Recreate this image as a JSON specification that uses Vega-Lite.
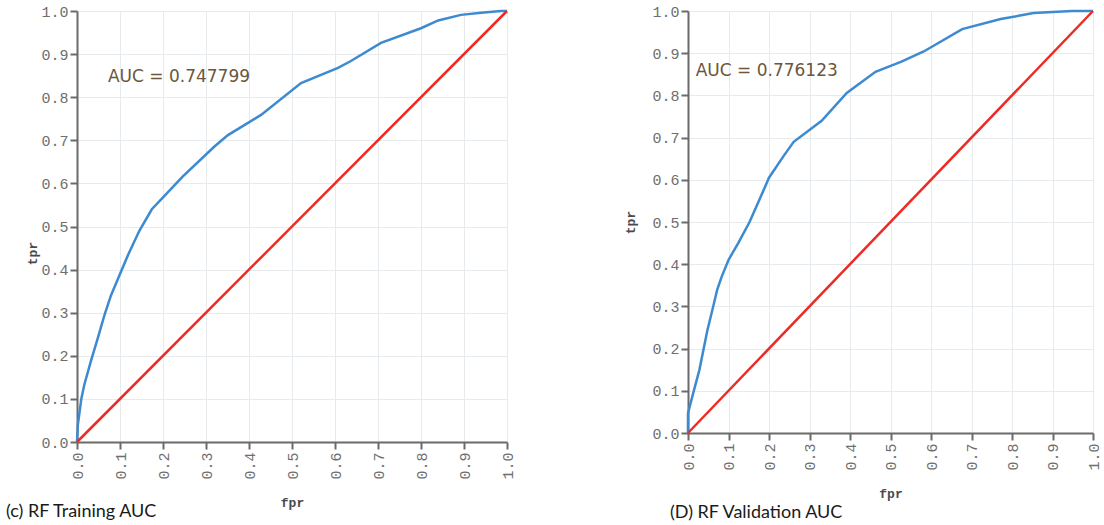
{
  "$schema": "https://vega.github.io/schema/vega-lite/v6.json",
  "padding": {"left": 5, "top": 4, "right": 9, "bottom": 0},
  "background": "white",
  "config": {
    "view": {"stroke": null},
    "axis": {
      "domainColor": "#6b6b6b", "domainWidth": 2,
      "tickColor": "#6b6b6b", "tickWidth": 2, "tickSize": 7,
      "labelFont": "Liberation Mono", "labelFontSize": 15, "labelColor": "#6e6e6e",
      "titleFont": "Liberation Mono", "titleFontSize": 13, "titleFontWeight": "bold", "titleColor": "#4a4a4a",
      "gridColor": "#e8ebee", "gridWidth": 1,
      "labelFlush": false, "labelOverlap": false,
      "values": [0, 0.1, 0.2, 0.3, 0.4, 0.5, 0.6, 0.7, 0.8, 0.9, 1.0],
      "format": ".1f"
    },
    "title": {"font": "Lato", "fontSize": 18, "fontWeight": "normal", "color": "#1a1a1a", "orient": "bottom", "anchor": "start"}
  },
  "datasets": {
    "train": [
      {"fpr": 0, "tpr": 0}, {"fpr": 0.002, "tpr": 0.04}, {"fpr": 0.01, "tpr": 0.10}, {"fpr": 0.017, "tpr": 0.133},
      {"fpr": 0.033, "tpr": 0.19}, {"fpr": 0.048, "tpr": 0.24}, {"fpr": 0.064, "tpr": 0.295}, {"fpr": 0.079, "tpr": 0.34},
      {"fpr": 0.098, "tpr": 0.385}, {"fpr": 0.12, "tpr": 0.437}, {"fpr": 0.145, "tpr": 0.49}, {"fpr": 0.174, "tpr": 0.54},
      {"fpr": 0.21, "tpr": 0.578}, {"fpr": 0.245, "tpr": 0.615}, {"fpr": 0.319, "tpr": 0.685}, {"fpr": 0.351, "tpr": 0.712},
      {"fpr": 0.428, "tpr": 0.759}, {"fpr": 0.521, "tpr": 0.833}, {"fpr": 0.607, "tpr": 0.868}, {"fpr": 0.637, "tpr": 0.884},
      {"fpr": 0.707, "tpr": 0.926}, {"fpr": 0.8, "tpr": 0.96}, {"fpr": 0.84, "tpr": 0.978}, {"fpr": 0.893, "tpr": 0.991},
      {"fpr": 0.94, "tpr": 0.996}, {"fpr": 0.986, "tpr": 1.0}, {"fpr": 1.0, "tpr": 1.0}
    ],
    "valid": [
      {"fpr": 0, "tpr": 0}, {"fpr": 0.0, "tpr": 0.047}, {"fpr": 0.013, "tpr": 0.095}, {"fpr": 0.028, "tpr": 0.149},
      {"fpr": 0.048, "tpr": 0.244}, {"fpr": 0.06, "tpr": 0.291}, {"fpr": 0.072, "tpr": 0.339}, {"fpr": 0.083, "tpr": 0.37},
      {"fpr": 0.1, "tpr": 0.41}, {"fpr": 0.124, "tpr": 0.45}, {"fpr": 0.152, "tpr": 0.5}, {"fpr": 0.176, "tpr": 0.552},
      {"fpr": 0.2, "tpr": 0.605}, {"fpr": 0.235, "tpr": 0.655}, {"fpr": 0.261, "tpr": 0.69}, {"fpr": 0.33, "tpr": 0.74},
      {"fpr": 0.392, "tpr": 0.806}, {"fpr": 0.463, "tpr": 0.856}, {"fpr": 0.527, "tpr": 0.88}, {"fpr": 0.582, "tpr": 0.904},
      {"fpr": 0.677, "tpr": 0.957}, {"fpr": 0.772, "tpr": 0.981}, {"fpr": 0.853, "tpr": 0.995}, {"fpr": 0.948, "tpr": 1.0},
      {"fpr": 1.0, "tpr": 1.0}
    ],
    "diag": [{"fpr": 0, "tpr": 0}, {"fpr": 1, "tpr": 1}],
    "aucTrain": [{"fpr": 0.072, "tpr": 0.848, "label": "AUC = 0.747799"}],
    "aucValid": [{"fpr": 0.019, "tpr": 0.858, "label": "AUC = 0.776123"}]
  },
  "spacing": 109,
  "hconcat": [
    {
      "width": 430, "height": 431,
      "title": {"text": "(c) RF Training AUC", "dx": -21, "offset": -6},
      "layer": [
        {
          "data": {"name": "train"},
          "mark": {"type": "line", "color": "#3d8ad0", "strokeWidth": 2.5},
          "encoding": {
            "x": {"field": "fpr", "type": "quantitative", "scale": {"domain": [0, 1], "nice": false},
                  "axis": {"title": "fpr", "labelAngle": -90, "labelPadding": 3, "titlePadding": 17}},
            "y": {"field": "tpr", "type": "quantitative", "scale": {"domain": [0, 1], "nice": false},
                  "axis": {"title": "tpr", "labelPadding": 2, "titlePadding": 1, "titleY": 242}},
            "order": {"field": "fpr", "type": "quantitative"}
          }
        },
        {
          "data": {"name": "diag"},
          "mark": {"type": "line", "color": "#ee2a24", "strokeWidth": 2.5},
          "encoding": {
            "x": {"field": "fpr", "type": "quantitative"},
            "y": {"field": "tpr", "type": "quantitative"}
          }
        },
        {
          "data": {"name": "aucTrain"},
          "mark": {"type": "text", "align": "left", "baseline": "middle", "font": "DejaVu Sans", "fontSize": 17, "color": "#6b5640"},
          "encoding": {
            "x": {"field": "fpr", "type": "quantitative"},
            "y": {"field": "tpr", "type": "quantitative"},
            "text": {"field": "label"}
          }
        }
      ]
    },
    {
      "width": 405, "height": 422,
      "title": {"text": "(D) RF Validation AUC", "dx": 45, "offset": 4},
      "layer": [
        {
          "data": {"name": "valid"},
          "mark": {"type": "line", "color": "#3d8ad0", "strokeWidth": 2.5},
          "encoding": {
            "x": {"field": "fpr", "type": "quantitative", "scale": {"domain": [0, 1], "nice": false},
                  "axis": {"title": "fpr", "labelAngle": -90, "labelPadding": 3, "titlePadding": 17}},
            "y": {"field": "tpr", "type": "quantitative", "scale": {"domain": [0, 1], "nice": false},
                  "axis": {"title": "tpr", "labelPadding": 2, "titlePadding": 14}},
            "order": {"field": "fpr", "type": "quantitative"}
          }
        },
        {
          "data": {"name": "diag"},
          "mark": {"type": "line", "color": "#ee2a24", "strokeWidth": 2.5},
          "encoding": {
            "x": {"field": "fpr", "type": "quantitative"},
            "y": {"field": "tpr", "type": "quantitative"}
          }
        },
        {
          "data": {"name": "aucValid"},
          "mark": {"type": "text", "align": "left", "baseline": "middle", "font": "DejaVu Sans", "fontSize": 17, "color": "#6b5640"},
          "encoding": {
            "x": {"field": "fpr", "type": "quantitative"},
            "y": {"field": "tpr", "type": "quantitative"},
            "text": {"field": "label"}
          }
        }
      ]
    }
  ]
}
